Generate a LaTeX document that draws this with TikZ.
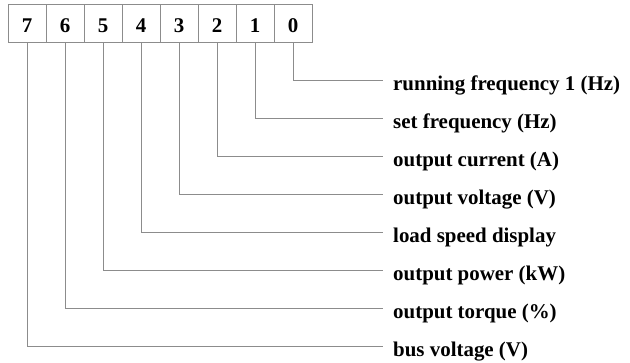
\documentclass[tikz,border=0pt]{standalone}
\usepackage{fontspec}
\setmainfont{Liberation Serif}
\begin{document}
\begin{tikzpicture}[x=1bp,y=-1bp,
  ln/.style={draw=black!45,line width=0.8bp},
  cell/.style={ln,minimum width=38bp,minimum height=38bp,inner sep=0pt,
    font=\fontsize{21}{25}\selectfont\bfseries,text height=19bp,text depth=0pt},
  lbl/.style={anchor=base west,inner sep=0pt,font=\fontsize{21}{25}\selectfont\bfseries}]
\useasboundingbox (0,0) rectangle (630,362);
% cells
\foreach \d [count=\k from 0] in {7,6,5,4,3,2,1,0}
  \node[cell] (c\d) at ({27+38*\k},23) {\d};
% labels
\node[lbl] (l0) at (393,{80.5+9.5+38*0}) {running frequency 1 (Hz)};
\node[lbl] (l1) at (393,{80.5+9.5+38*1}) {set frequency (Hz)};
\node[lbl] (l2) at (393,{80.5+9.5+38*2}) {output current (A)};
\node[lbl] (l3) at (393,{80.5+9.5+38*3}) {output voltage (V)};
\node[lbl] (l4) at (393,{80.5+9.5+38*4}) {load speed display};
\node[lbl] (l5) at (393,{80.5+9.5+38*5}) {output power (kW)};
\node[lbl] (l6) at (393,{80.5+9.5+38*6}) {output torque (\%)};
\node[lbl] (l7) at (393,{80.5+9.5+38*7}) {bus voltage (V)};
% connectors
\foreach \d in {0,...,7}
  \draw[ln] (c\d.south) |- ([xshift=-10bp,yshift=9.5bp]l\d.base west);
\end{tikzpicture}
\end{document}
